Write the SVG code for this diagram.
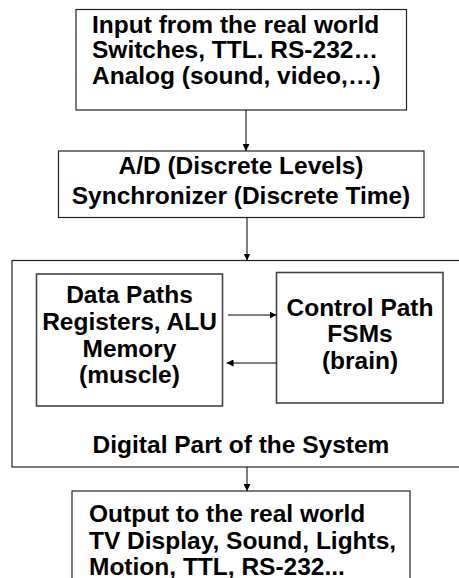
<svg xmlns="http://www.w3.org/2000/svg" width="459" height="578" viewBox="0 0 459 578">
<defs>
<marker id="ah" viewBox="0 0 8 8" refX="8" refY="4" markerWidth="7" markerHeight="7" markerUnits="userSpaceOnUse" orient="auto">
<path d="M0,0 L8,4 L0,8 Z" fill="#000"/>
</marker>
<style>
.box{fill:#fff;stroke:#222;stroke-width:1.2}
.inner{fill:#fff;stroke:#444;stroke-width:1.6}
.t{font-family:"Liberation Sans",Arial,sans-serif;font-weight:bold;font-size:24.5px;fill:#000}
.c{text-anchor:middle}
.conn{stroke:#000;stroke-width:1;fill:none;marker-end:url(#ah)}
</style>
</defs>
<rect width="459" height="578" fill="#fff"/>
<g id="input">
<rect class="box" x="76" y="9.5" width="330.5" height="100.5"/>
<text class="t" x="92" y="32.5">Input from the real world</text>
<text class="t" x="92" y="58">Switches, TTL. RS-232…</text>
<text class="t" x="92" y="83.5">Analog (sound, video,…)</text>
</g>
<g id="ad">
<rect class="box" x="58.5" y="151" width="365.5" height="66.5"/>
<text class="t c" x="241" y="173.5">A/D (Discrete Levels)</text>
<text class="t c" x="241" y="203.5">Synchronizer (Discrete Time)</text>
</g>
<g id="digital">
<rect class="box" x="12" y="260.5" width="460" height="206.5"/>
<text class="t c" x="241" y="453">Digital Part of the System</text>
</g>
<g id="datapath">
<rect class="inner" x="36.5" y="274" width="186" height="132"/>
<text class="t c" x="129.5" y="303">Data Paths</text>
<text class="t c" x="129.5" y="329.5">Registers, ALU</text>
<text class="t c" x="129.5" y="356.5">Memory</text>
<text class="t c" x="129.5" y="383">(muscle)</text>
</g>
<g id="control">
<rect class="inner" x="276.5" y="272.5" width="166.5" height="130.5"/>
<text class="t c" x="360" y="315.5">Control Path</text>
<text class="t c" x="360" y="342">FSMs</text>
<text class="t c" x="360" y="368.5">(brain)</text>
</g>
<g id="output">
<rect class="box" x="72" y="491" width="338" height="100"/>
<text class="t" x="89" y="522">Output to the real world</text>
<text class="t" x="89" y="548.5">TV Display, Sound, Lights,</text>
<text class="t" x="89" y="574.5">Motion, TTL, RS-232...</text>
</g>
<g id="connectors">
<line class="conn" x1="246" y1="110" x2="246" y2="151"/>
<line class="conn" x1="247" y1="217.5" x2="247" y2="260.5"/>
<line class="conn" x1="247" y1="467" x2="247" y2="491"/>
<line class="conn" x1="228" y1="315" x2="276.5" y2="315"/>
<line class="conn" x1="276.5" y1="363" x2="226.5" y2="363"/>
</g>
</svg>
